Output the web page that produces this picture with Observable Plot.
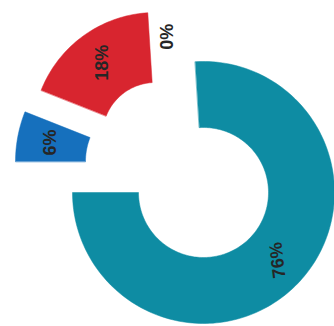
<!DOCTYPE html>
<html>
<head>
<meta charset="utf-8">
<script src="https://cdn.jsdelivr.net/npm/d3@7"></script>
<script src="https://cdn.jsdelivr.net/npm/@observablehq/plot@0.6"></script>
<style>
  html, body { margin: 0; padding: 0; background: #fff; }
  #chart svg { display: block; }
</style>
</head>
<body>
<div id="chart"></div>
<script>
// ---- data ----
const categories = ["Teal", "Blue", "Red", "Zero"];
const values = [76, 6, 18, 0];
const labels = ["76%", "6%", "18%", "0%"];

// ---- styling / layout ----
const colors = ["#0e8ca3", "#1670bd", "#d8252f", "#d8252f"];
const startDeg = -3.6;                   // where the first slice begins (clockwise from 12 o'clock)
const layout = [                          // per slice: explode offset, radii, label tweaks
  {dx: -2,  dy: 0,  rIn: 65, rOut: 131, labelR: 99,  ldx: 2,  rot: -97},
  {dx: -55, dy: 31, rIn: 65, rOut: 135, labelR: 102, ldx: 0,  rot: -90},
  {dx: -50, dy: 57, rIn: 53, rOut: 123, labelR: 90,  ldx: 0,  rot: -90},
  {dx: -50, dy: 57, rIn: 53, rOut: 123, labelR: 99,  ldx: 18, rot: -90}
];

const W = 334, H = 326;
const total = d3.sum(values);
const rad = Math.PI / 180;

// build slice polygons from the values
const polys = [];
const textRows = [];
let a = startDeg;
values.forEach((v, i) => {
  const span = v / total * 360;
  const a0 = a, a1 = a + span;
  a = a1;
  const L = layout[i];
  if (span > 0) {
    const n = Math.max(8, Math.ceil(span / 1.5));
    const pts = [];
    for (let k = 0; k <= n; k++) {
      const t = (a0 + (a1 - a0) * k / n) * rad;
      pts.push({cat: categories[i], x: L.dx + L.rOut * Math.sin(t), y: L.dy + L.rOut * Math.cos(t)});
    }
    for (let k = n; k >= 0; k--) {
      const t = (a0 + (a1 - a0) * k / n) * rad;
      pts.push({cat: categories[i], x: L.dx + L.rIn * Math.sin(t), y: L.dy + L.rIn * Math.cos(t)});
    }
    polys.push({cat: categories[i], color: colors[i], pts});
  }
  const mid = (a0 + a1) / 2 * rad;
  textRows.push({
    label: labels[i],
    x: L.dx + L.labelR * Math.sin(mid) + L.ldx,
    y: L.dy + L.labelR * Math.cos(mid),
    rot: L.rot
  });
});

const marks = polys.map(p => Plot.line(p.pts, {
  x: "x", y: "y", curve: "linear-closed",
  fill: p.color, stroke: p.color, strokeWidth: 0.5,
  style: "filter:url(#shadow)"
}));
textRows.forEach(r => {
  marks.push(Plot.text([r], {
    x: "x", y: "y", text: "label", rotate: r.rot,
    fontSize: 18, fontWeight: "bold", fill: "#262626",
    fontFamily: "Liberation Sans, Arial, sans-serif"
  }));
});

const plot = Plot.plot({
  width: W, height: H,
  margin: 0,
  x: {domain: [-205, W - 205], axis: null},
  y: {domain: [-(H - 192), 192], axis: null},
  style: {background: "#fff", overflow: "visible"},
  marks
});

// drop shadow filter
const ns = "http://www.w3.org/2000/svg";
const defs = document.createElementNS(ns, "defs");
defs.innerHTML = `<filter id="shadow" x="-20%" y="-20%" width="140%" height="140%">
  <feDropShadow dx="1.5" dy="2" stdDeviation="2" flood-color="#000" flood-opacity="0.22"/>
</filter>`;
plot.insertBefore(defs, plot.firstChild);

document.getElementById("chart").appendChild(plot);
</script>
</body>
</html>
